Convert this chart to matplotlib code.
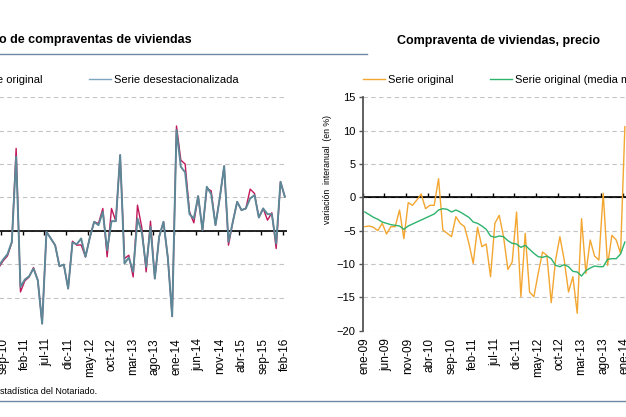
import matplotlib
matplotlib.use("Agg")
import matplotlib.pyplot as plt
from matplotlib.lines import Line2D

plt.rcParams['font.family'] = ['Liberation Sans', 'DejaVu Sans']

# month categories ene-09 .. feb-16
month_names = ['ene', 'feb', 'mar', 'abr', 'may', 'jun',
               'jul', 'ago', 'sep', 'oct', 'nov', 'dic']
months = [f"{m}-{y:02d}" for y in range(9, 17) for m in month_names][:86]
tick_every = 5

# left panel: variacion interanual del numero de compraventas (from ago-10)
left_start = 19
left_original = [-11.0, -9.0, -7.5, -3.5, 24.7, -18.3, -15.0, -13.8, -11.0, -14.8,
                 -27.8, -0.3, -2.3, -4.3, -10.6, -10.1, -17.3, -3.1, -4.3, -4.2,
                 -7.8, -2.0, 2.7, 2.2, 6.7, -7.8, 6.7, 2.9, 22.7, -8.3,
                 -7.3, -13.8, 7.7, 1.0, -12.3, 2.9, -14.3, -1.8, 2.7, -8.0,
                 -25.6, 31.4, 21.2, 20.0, 5.7, 2.4, 10.4, 0.2, 12.7, 12.0,
                 1.7, 10.0, 19.4, -4.3, 2.7, 8.7, 6.2, 6.7, 12.5, 11.2,
                 4.0, 6.7, 3.2, 5.4, -5.3, 14.7, 10.2]
left_desest = [-10.5, -8.6, -7.0, -3.3, 22.2, -16.8, -14.6, -13.6, -11.3, -14.8,
               -27.8, -0.3, -2.3, -4.3, -10.6, -10.1, -17.3, -3.5, -4.0, -2.3,
               -7.8, -2.0, 2.7, 1.7, 5.7, -5.8, 2.9, 2.9, 22.7, -9.8,
               -8.0, -12.3, 3.7, -0.5, -10.8, 1.2, -14.3, -1.8, 2.7, -8.0,
               -25.6, 30.2, 19.2, 17.5, 5.0, 3.7, 10.4, 0.2, 13.2, 11.0,
               1.7, 10.0, 19.4, -3.3, 2.7, 8.7, 6.2, 6.7, 9.7, 10.7,
               4.0, 6.7, 5.0, 5.0, -3.8, 14.7, 10.2]

# right panel: precio, variacion interanual (en %) from ene-09
right_original = [-4.4, -4.3, -4.5, -5.0, -3.9, -5.5, -4.4, -4.4, -1.9, -6.2,
                  -0.8, -1.2, -0.4, 0.5, -1.7, -1.2, -1.2, 2.8, -4.9, -5.4,
                  -5.9, -2.9, -3.9, -4.4, -6.9, -9.9, -4.5, -7.4, -7.0, -11.9,
                  -3.9, -2.7, -5.9, -10.8, -9.7, -2.2, -14.9, -5.4, -14.2, -14.9,
                  -11.4, -8.2, -8.7, -15.8, -9.4, -5.9, -9.4, -14.2, -11.9, -17.4,
                  -3.2, -11.4, -6.4, -8.8, -9.4, 0.6, -10.2, -5.7, -6.4, -8.4,
                  10.6]
right_media = [-2.2, -2.6, -3.0, -3.3, -3.7, -3.9, -4.1, -4.2, -4.3, -4.8,
               -4.3, -4.0, -3.7, -3.4, -3.1, -2.8, -2.5, -1.9, -1.7, -1.8,
               -2.2, -1.9, -2.2, -2.6, -3.0, -3.7, -3.9, -4.3, -4.8, -5.8,
               -6.0, -5.8, -5.9, -6.5, -6.9, -7.0, -7.5, -7.2, -7.8, -8.4,
               -8.9, -9.0, -8.8, -9.2, -10.2, -10.4, -10.1, -10.4, -11.1, -11.2,
               -11.8, -11.0, -10.6, -10.3, -10.4, -10.4, -9.3, -9.2, -9.2, -8.5,
               -6.7]

W, H = 626, 417
fig = plt.figure(figsize=(W / 100, H / 100), dpi=100)

c_red = '#C0185A'
c_blue = '#5C8898'
c_orange = '#F3A630'
c_green = '#2EB36C'
c_grid = '#C4C4C4'
c_rule = '#6F88A3'


def px_axes(x0, y0, x1, y1):
    # axes from pixel box (top-left origin)
    return fig.add_axes([x0 / W, 1 - y1 / H, (x1 - x0) / W, (y1 - y0) / H])


def style_panel(ax, ylo, yhi, step, first_label=0):
    ax.set_xlim(0, len(months))
    ax.set_ylim(ylo, yhi)
    ax.set_yticks(range(ylo, yhi + 1, step))
    ax.yaxis.grid(True, color=c_grid, linestyle=(0, (4, 3)), linewidth=0.8)
    ax.set_axisbelow(True)
    for s in ['top', 'right', 'bottom']:
        ax.spines[s].set_visible(False)
    ax.axhline(0, color='black', linewidth=1.2, zorder=1)
    idx = list(range(first_label, len(months), tick_every))
    ax.set_xticks([i + 0.5 for i in idx])
    ax.set_xticklabels([months[i] for i in idx], rotation=90, fontsize=8.5)
    ax.tick_params(axis='x', length=0, pad=5)
    # tick marks on the zero line
    sec = ax.secondary_xaxis((0 - ylo) / (yhi - ylo))
    sec.set_xticks(range(0, len(months) + 1, tick_every))
    sec.set_xticklabels([])
    sec.tick_params(length=3, width=1, color='black', direction='out')
    sec.spines['bottom'].set_visible(False)


# ---- left panel (its left part lies outside the picture)
axl = px_axes(-85.7, 97.3, 287.0, 331.0)
style_panel(axl, -30, 40, 10, first_label=20)
axl.spines['left'].set_visible(False)
axl.tick_params(axis='y', length=0, labelleft=False)
xl = [left_start + i + 0.5 for i in range(len(left_original))]
l1, = axl.plot(xl, left_original, color=c_red, linewidth=1.0, zorder=3)
l2, = axl.plot(xl, left_desest, color=c_blue, linewidth=1.4, zorder=4)

# ---- right panel (its right part lies outside the picture)
axr = px_axes(362.7, 97.3, 735.4, 330.7)
style_panel(axr, -20, 15, 5)
axr.set_xticks([i + 0.5 for i in range(0, 61, tick_every)])
axr.set_xticklabels([months[i] for i in range(0, 61, tick_every)], rotation=90, fontsize=8.5)
axr.spines['left'].set_color('#555555')
axr.spines['left'].set_linewidth(1.3)
axr.tick_params(axis='y', length=3, width=1, color='#555555', labelsize=8, pad=2)
xr = [i + 0.5 for i in range(len(right_original))]
r1, = axr.plot(xr, right_original, color=c_orange, linewidth=1.0, zorder=3)
r2, = axr.plot(xr, right_media, color=c_green, linewidth=1.0, zorder=4)

# legends
fig.legend([Line2D([], [], color=c_red, lw=1.0), Line2D([], [], color='#7FA6BF', lw=1.0)],
           ['Serie original', 'Serie desestacionalizada'],
           loc='center left', bbox_to_anchor=(-48 / W, 1 - 80 / H), ncol=2,
           frameon=False, fontsize=8, handlelength=2.0, handletextpad=0.25,
           columnspacing=4.2, borderpad=0, borderaxespad=0)
fig.legend([Line2D([], [], color=c_orange, lw=1.0), Line2D([], [], color=c_green, lw=1.0)],
           ['Serie original', 'Serie original (media m'],
           loc='center left', bbox_to_anchor=(363 / W, 1 - 80 / H), ncol=2,
           frameon=False, fontsize=8, handlelength=2.0, handletextpad=0.25,
           columnspacing=3.3, borderpad=0, borderaxespad=0)

# titles, rules, labels
fig.text(-1 / W, 1 - 40 / H, 'o de compraventas de viviendas', fontsize=9,
         fontweight='bold', ha='left', va='center')
fig.text(397 / W, 1 - 41 / H, 'Compraventa de viviendas, precio', fontsize=9,
         fontweight='bold', ha='left', va='center')
fig.add_artist(Line2D([0, 367 / W], [1 - 54 / H, 1 - 54 / H], color=c_rule, lw=1.0))
fig.add_artist(Line2D([0, 1], [1 - 401 / H, 1 - 401 / H], color=c_rule, lw=1.0))
fig.text(327 / W, 1 - 170 / H, 'variación  interanual  (en %)', fontsize=6.3,
         rotation=90, ha='center', va='center')
fig.text(0, 1 - 391 / H, 'stadística del Notariado.', fontsize=6.5,
         ha='left', va='center')

fig.savefig('out.png', dpi=100)
